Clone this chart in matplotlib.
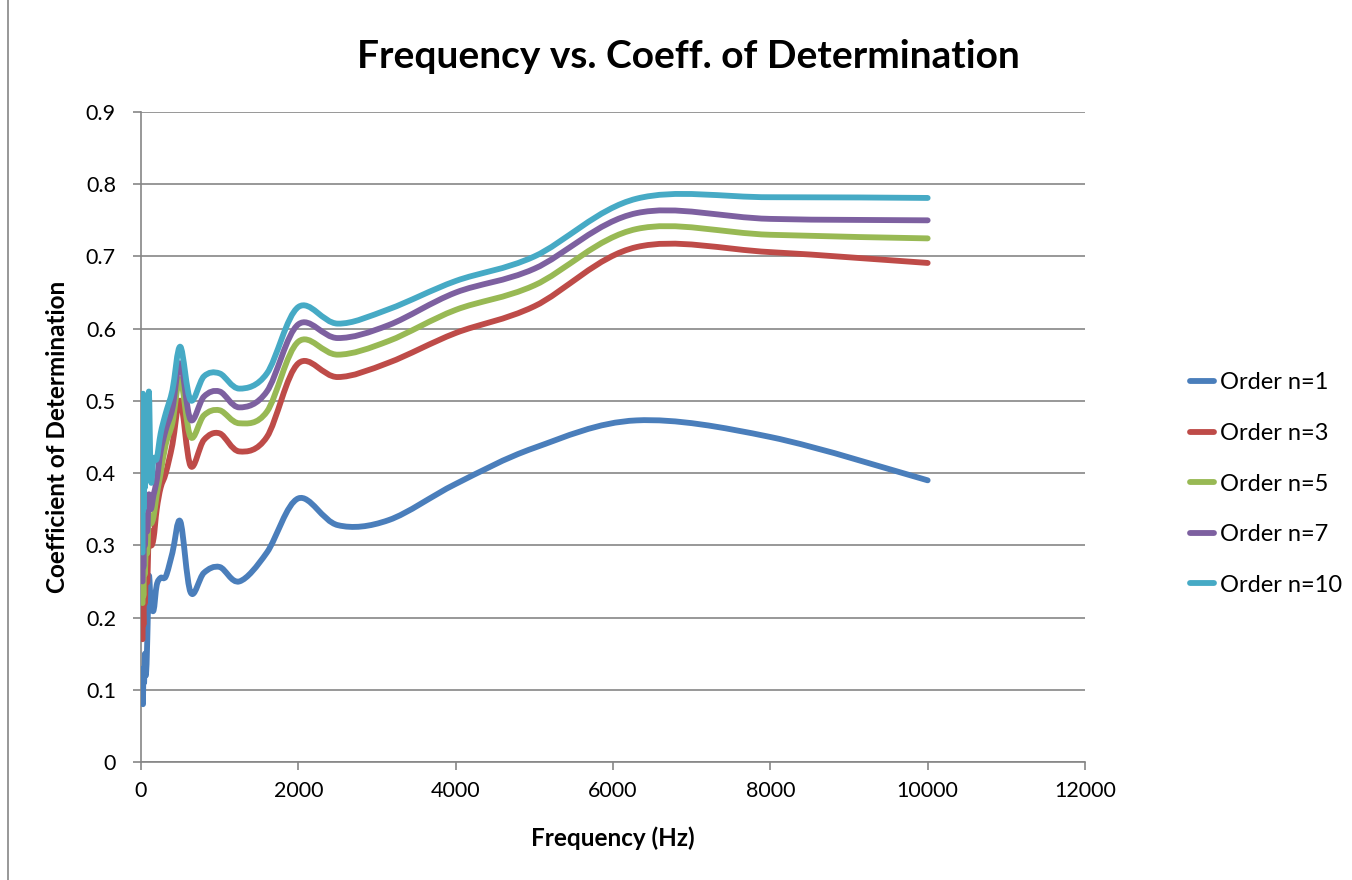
import numpy as np
import matplotlib
matplotlib.use('Agg')
import matplotlib.pyplot as plt
from matplotlib.path import Path
from matplotlib.patches import PathPatch
from matplotlib.lines import Line2D

plt.rcParams['font.family'] = ['Lato', 'DejaVu Sans']

# 1/3 octave band centre frequencies (Hz)
freq = [20, 25, 31.5, 40, 50, 63, 80, 100, 125, 160, 200, 250, 315, 400, 500,
        630, 800, 1000, 1250, 1600, 2000, 2500, 3150, 4000, 5000, 6300, 8000, 10000]

order1 = [0.10, 0.08, 0.13, 0.11, 0.15, 0.12, 0.17, 0.257, 0.22, 0.21, 0.245, 0.255, 0.257, 0.29, 0.333,
          0.235, 0.262, 0.27, 0.25, 0.29, 0.365, 0.328, 0.335, 0.385, 0.435, 0.473, 0.45, 0.39]
order3 = [0.17, 0.22, 0.19, 0.25, 0.22, 0.27, 0.25, 0.32, 0.30, 0.31, 0.35, 0.38, 0.40, 0.44, 0.50,
          0.41, 0.446, 0.455, 0.43, 0.45, 0.552, 0.533, 0.553, 0.594, 0.631, 0.713, 0.706, 0.691]
order5 = [0.22, 0.25, 0.23, 0.28, 0.26, 0.30, 0.29, 0.34, 0.33, 0.34, 0.37, 0.40, 0.44, 0.47, 0.53,
          0.45, 0.48, 0.487, 0.469, 0.485, 0.582, 0.564, 0.583, 0.626, 0.660, 0.738, 0.730, 0.725]
order7 = [0.25, 0.29, 0.27, 0.32, 0.30, 0.34, 0.32, 0.37, 0.35, 0.37, 0.39, 0.43, 0.46, 0.49, 0.552,
          0.474, 0.506, 0.513, 0.491, 0.513, 0.606, 0.587, 0.605, 0.650, 0.683, 0.760, 0.752, 0.750]
order10 = [0.29, 0.51, 0.35, 0.42, 0.38, 0.45, 0.40, 0.513, 0.39, 0.42, 0.42, 0.455, 0.483, 0.515, 0.575,
           0.501, 0.534, 0.538, 0.517, 0.538, 0.630, 0.607, 0.627, 0.666, 0.700, 0.780, 0.782, 0.781]

series = [('Order n=1', order1, '#4A7EBB'),
          ('Order n=3', order3, '#BE4B48'),
          ('Order n=5', order5, '#98B954'),
          ('Order n=7', order7, '#7D60A0'),
          ('Order n=10', order10, '#46AAC5')]


def smooth_path(x, y):
    # Excel style smoothed line: cubic bezier segments through every point
    pts = np.column_stack([x, y]).astype(float)
    n = len(pts)
    verts = [pts[0]]
    codes = [Path.MOVETO]
    for i in range(n - 1):
        p0 = pts[i - 1] if i > 0 else pts[i]
        p1 = pts[i]
        p2 = pts[i + 1]
        p3 = pts[i + 2] if i + 2 < n else pts[i + 1]
        c1 = p1 + (p2 - p0) / 6.0
        c2 = p2 - (p3 - p1) / 6.0
        verts += [c1, c2, p2]
        codes += [Path.CURVE4] * 3
    return Path(verts, codes)


fig = plt.figure(figsize=(13.52, 8.8), dpi=100)
ax = fig.add_axes([141 / 1352, 1 - 762 / 880, (1085 - 141) / 1352, (762 - 112) / 880])

handles = []
for label, vals, col in series:
    patch = PathPatch(smooth_path(freq, vals), fill=False, edgecolor=col, lw=4.2,
                      capstyle='round', joinstyle='round', zorder=3)
    ax.add_patch(patch)
    handles.append(Line2D([], [], color=col, lw=4.2, solid_capstyle='round', label=label))

ax.set_xlim(0, 12000)
ax.set_ylim(0, 0.9)
ax.set_xticks(np.arange(0, 12001, 2000))
ax.set_yticks(np.arange(0, 0.91, 0.1))
ax.set_yticklabels(['0'] + ['%.1f' % v for v in np.arange(0.1, 0.91, 0.1)])
ax.yaxis.grid(True, color='#868686', lw=1.2)
ax.set_axisbelow(True)
for s in ['top', 'right']:
    ax.spines[s].set_visible(False)
for s in ['left', 'bottom']:
    ax.spines[s].set_color('#868686')
    ax.spines[s].set_linewidth(1.2)
ax.tick_params(direction='out', length=6, width=1.2, color='#868686', labelsize=15.5, pad=8)
ax.tick_params(axis='y', pad=12)

ax.set_xlabel('Frequency (Hz)', fontsize=17.5, fontweight='bold', labelpad=18)
ax.set_ylabel('Coefficient of Determination', fontsize=17.5, fontweight='bold', labelpad=12)
fig.text(688 / 1352, 1 - 56 / 880, 'Frequency vs. Coeff. of Determination',
         ha='center', va='center', fontsize=28, fontweight='bold')

fig.legend(handles=handles, loc='center left', bbox_to_anchor=(1190 / 1352, 1 - 484 / 880),
           frameon=False, fontsize=17, handlelength=1.0, handletextpad=0.25,
           labelspacing=1.25, borderpad=0, borderaxespad=0)

fig.add_artist(Line2D([8 / 1352, 8 / 1352], [0, 1], color='#868686', lw=1.2))

fig.savefig('out.png', dpi=100)
